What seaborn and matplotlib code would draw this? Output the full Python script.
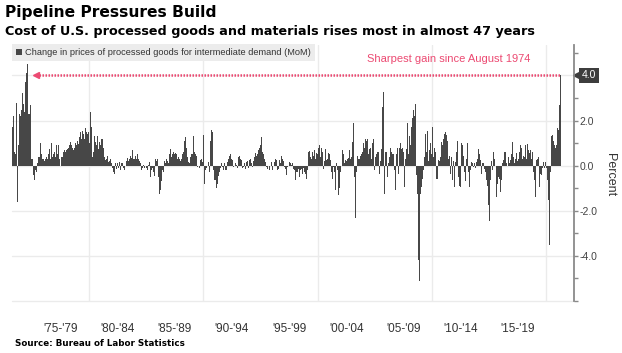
import numpy as np
import pandas as pd
import matplotlib
matplotlib.use("Agg")
import matplotlib.pyplot as plt
from matplotlib.patches import Patch
from matplotlib.ticker import MultipleLocator
import seaborn as sns

# monthly % change, processed goods for intermediate demand
start_month = "1973-04"
mom_1973_79 = [
    1.7, 2.2, 0.6, 0.5, 2.8, -1.6, 0.9, 2.3, 2.2,
    2.45, 2.8, 3.2, 2.75, 2.4, 3.7, 4.1, 4.5, 2.3, 2.3, 2.7, 0.3,
    0.3, -0.4, -0.65, -0.2, -0.3, 0.1, 0.4, 0.4, 1.0, 0.5, 0.3, 0.3,
    0.3, 0.2, 0.3, 0.4, 0.3, 0.5, 0.75, 0.3, 1.0, 0.4, 0.5, 0.6,
    0.4, 0.9, 0.5, 0.9, 0.3, 0.0, 0.4, 0.5, 0.4, 0.6, 0.7, 0.6,
    0.7, 0.75, 0.8, 0.9, 1.05, 0.9, 0.8, 0.7, 0.8, 1.0, 0.9, 1.1,
    0.95, 1.25, 1.5, 1.2, 1.3, 1.55, 1.4, 1.2, 1.65, 1.5, 1.4, 1.5,
]
mom_1980_84 = [
    1.0, 2.4, 1.7, 0.4, 0.6, 1.3, 1.05, 0.9, 1.3, 0.75, 1.05, 0.9,
    1.2, 1.0, 1.2, 0.8, 0.4, 0.25, 0.3, 0.45, 0.15, 0.2, 0.3, 0.1,
    -0.1, -0.3, -0.35, 0.1, -0.15, 0.1, -0.1, 0.15, -0.2, 0.1, -0.25, 0.1,
    -0.1, -0.2, 0.0, 0.2, 0.35, 0.2, 0.3, 0.45, 0.35, 0.7, 0.3, 0.3,
    0.45, 0.3, 0.5, 0.3, 0.2, 0.1, -0.2, -0.1, -0.1, 0.05, -0.1, 0.0,
]
mom_1985_89 = [
    -0.1, -0.2, 0.05, 0.15, -0.5, -0.2, -0.1, -0.3, -0.45, 0.3, 0.2, 0.3,
    -0.5, -1.25, -1.1, -0.7, -0.35, -0.2, -0.3, 0.2, 0.1, 0.3, 0.2, 0.1,
    0.5, 0.75, 0.4, 0.5, 0.6, 0.5, 0.55, 0.5, 0.3, 0.4, 0.3, 0.2,
    0.3, 0.4, 0.5, 0.6, 1.1, 1.25, 0.8, 0.4, 0.15, 0.1, 0.4, 0.5,
    0.5, 1.3, 0.6, 0.5, 0.45, -0.05, 0.0, -0.1, 0.25, 0.3, 0.1, 0.15,
]
mom_1990_94 = [
    1.35, -0.8, -0.2, -0.1, 0.0, 0.15, -0.3, 1.1, 1.6, 1.5, -0.2, -0.65,
    -0.65, -1.0, -0.8, -0.45, -0.3, -0.1, 0.1, 0.15, -0.05, -0.2, 0.1, -0.2,
    -0.2, 0.15, 0.3, 0.45, 0.5, 0.3, 0.25, -0.05, 0.0, 0.1, 0.05, -0.1,
    0.4, 0.45, 0.3, 0.25, -0.2, -0.1, -0.05, 0.1, -0.15, 0.15, 0.2, -0.1,
    0.25, 0.3, 0.1, -0.05, 0.2, 0.4, 0.55, 0.45, 0.5, 0.7, 0.8, 0.9,
]
mom_1995_99 = [
    1.1, 1.25, 0.6, 0.5, 0.3, 0.15, -0.05, -0.15, 0.0, -0.2, 0.0, 0.15,
    -0.2, 0.0, 0.15, 0.3, 0.25, -0.2, -0.15, 0.25, 0.1, 0.4, 0.45, 0.3,
    0.2, -0.05, -0.15, -0.4, -0.05, 0.0, 0.15, 0.1, 0.05, 0.1, -0.15, -0.2,
    -0.65, -0.3, -0.3, -0.15, -0.5, -0.2, -0.2, -0.15, -0.35, -0.1, -0.3, -0.35,
    -0.6, -0.2, 0.6, 0.65, 0.4, 0.3, 0.6, 0.45, 0.7, 0.3, 0.55, 0.5,
]
mom_2000_04 = [
    0.8, 0.9, 0.4, -0.1, 0.8, 0.6, -0.15, 0.2, 0.75, 0.25, 0.3, 0.55,
    0.5, 0.25, -0.3, -0.6, -0.05, -0.3, -1.1, 0.1, -0.2, -1.3, -1.0, -0.3,
    -0.3, 0.0, 0.7, 0.5, 0.1, 0.25, 0.2, 0.3, 0.35, 0.7, 0.3, 0.4,
    1.05, 1.9, -0.5, -2.3, -0.3, 0.45, 0.3, 0.3, 0.45, 0.2, 0.5, 0.6,
    1.0, 0.8, 1.2, 1.1, 1.2, 0.5, 0.75, 0.8, 0.3, 1.0, 1.2, -0.2,
]
mom_2005_09 = [
    0.4, 0.5, 0.6, 0.6, -0.35, 0.2, 0.45, 0.75, 2.6, 3.25, -1.25, 0.6,
    0.6, -0.5, 0.1, 0.4, 0.8, 0.6, 0.5, 0.5, -0.2, -1.1, 0.5, 0.8,
    -0.35, 0.8, 1.0, 0.9, 0.75, 0.8, 0.6, -0.95, 0.3, 0.75, 1.9, 0.5,
    1.3, 0.9, 1.7, 2.1, 2.45, 2.2, 2.75, -0.4, -1.25, -4.2, -5.1, -1.25,
    -1.55, -0.95, -0.6, -0.2, 0.4, 1.4, 0.6, 1.55, 0.2, 0.7, 1.0, 0.5,
]
mom_2010_14 = [
    1.7, 0.4, 0.8, 0.6, -0.6, -0.6, 0.25, 0.2, 0.4, 1.2, 1.05, 0.9,
    1.2, 1.4, 1.5, 1.35, 1.1, 0.3, 0.45, -0.35, 0.4, -0.65, 0.2, -0.95,
    0.15, 0.6, 1.1, -0.5, -0.9, -0.95, 0.1, 1.0, 0.9, 0.45, -0.3, -0.7,
    0.3, 1.0, -0.3, -0.95, -0.2, 0.15, 0.1, -0.05, 0.1, -0.1, 0.15, 0.3,
    0.75, 0.5, 0.25, -0.1, -0.35, 0.1, 0.1, -0.15, -0.3, -0.65, -0.9, -1.75,
]
mom_2015_19 = [
    -2.45, -0.65, 0.2, -0.2, 0.6, 0.3, 0.0, -1.4, -0.8, -0.5, -0.6, -1.15,
    -1.15, -0.65, 0.1, 0.25, 0.6, 0.6, 0.1, 0.0, 0.4, 0.1, 0.25, 0.5,
    1.05, 0.4, 0.1, 0.3, 0.55, 0.2, 0.3, 0.6, 0.9, 0.5, 0.8, 0.3,
    0.45, 0.4, 0.9, 0.3, 0.95, 0.7, 0.55, 0.7, 0.3, 0.6, -0.3, -0.65,
    -1.4, 0.25, 0.3, 0.4, -0.95, -0.35, -0.05, -0.4, -0.1, 0.15, -0.1, 0.15,
]
mom_2020_21 = [
    -0.1, -0.65, -1.5, -3.5, -0.3, 1.3, 1.35, 1.1, 0.9, 0.8, 0.9, 1.65,
    1.6, 2.7, 4.0,
]

period_labels = ["'75-'79", "'80-'84", "'85-'89", "'90-'94", "'95-'99",
                 "'00-'04", "'05-'09", "'10-'14", "'15-'19"]
period_centers = [1977.5, 1982.5, 1987.5, 1992.5, 1997.5,
                  2002.5, 2007.5, 2012.5, 2017.5]
decade_lines = [1980, 1990, 2000, 2010, 2020]
y_ticks = [-4, -2, 0, 2, 4]

values = (mom_1973_79 + mom_1980_84 + mom_1985_89 + mom_1990_94 + mom_1995_99
          + mom_2000_04 + mom_2005_09 + mom_2010_14 + mom_2015_19 + mom_2020_21)
dates = pd.date_range(start_month, periods=len(values), freq="MS")
df = pd.DataFrame({"t": dates.year + (dates.month - 0.5) / 12, "mom": values})

BAR = "#474747"
PINK = "#ec4a72"
GRID = "#ebebeb"

sns.set_theme(style="white")
plt.rcParams["font.family"] = ["Liberation Sans", "DejaVu Sans"]

fig = plt.figure(figsize=(6.22, 3.53), dpi=100)
ax = fig.add_axes([12 / 622, 1 - 301 / 353, 562 / 622, 256 / 353])

sns.barplot(data=df, x="t", y="mom", native_scale=True, color=BAR,
            saturation=1, width=1.0, linewidth=0, errorbar=None, ax=ax)

ax.set_xlim(1973.25, 2022.43)
ax.set_ylim(-6, 5.35)
ax.set_axisbelow(True)

for d in decade_lines:
    ax.axvline(d, color=GRID, lw=1, zorder=0)
for v in [-6] + y_ticks:
    ax.axhline(v, color=GRID, lw=1, zorder=0, clip_on=False)

ax.set_xticks(period_centers)
ax.set_xticklabels(period_labels)
ax.tick_params(axis="x", length=0, labelsize=8.5, labelcolor="#333333", pad=16)

ax.yaxis.tick_right()
ax.set_yticks(y_ticks)
# the top tick is covered by the value tag, so leave its label empty
ax.set_yticklabels([f"{v:.1f}" if v != 4 else "" for v in y_ticks])
ax.yaxis.set_minor_locator(MultipleLocator(1))
ax.tick_params(axis="y", which="both", direction="out", length=3, width=1,
               color="#8a8a8a", labelsize=7.5, labelcolor="#444444", pad=1)
ax.set_xlabel("")
ax.set_ylabel("")

for s in ["top", "left", "bottom"]:
    ax.spines[s].set_visible(False)
ax.spines["right"].set_color("#8a8a8a")
ax.spines["right"].set_linewidth(1.3)

# arrow from latest reading back to the Aug 1974 spike
peak = df["mom"].iloc[-1]
t_last = df["t"].iloc[-1]
t_1974 = df.loc[df["mom"].idxmax(), "t"]
ax.plot([t_1974 + 0.75, t_last], [peak, peak], color=PINK, lw=1.8,
        ls=(0, (0.6, 0.6)), zorder=3)
ax.plot([t_1974 + 0.75], [peak], marker="<", ms=5, color=PINK, zorder=3)
ax.text(2004.3, 4.75, "Sharpest gain since August 1974", color=PINK,
        fontsize=8, ha="left", va="center")

# value tag on the axis
ax.plot([1.006], [peak], marker="<", ms=6, color="#3d3d3d",
        transform=ax.get_yaxis_transform(), clip_on=False)
ax.annotate(f"{peak:.1f}", xy=(1, peak), xycoords=("axes fraction", "data"),
            xytext=(5.5, 0), textcoords="offset points", ha="left", va="center",
            color="white", fontsize=7.5,
            bbox=dict(boxstyle="square,pad=0.25", fc="#3d3d3d", ec="none"))

leg = ax.legend(handles=[Patch(fc=BAR, ec="none",
                               label="Change in prices of processed goods for intermediate demand (MoM)")],
                loc="upper left", bbox_to_anchor=(0, 1.005), fontsize=6.7,
                frameon=True, fancybox=False, framealpha=1, facecolor="#ececec",
                edgecolor="none", handlelength=0.6, handleheight=0.6,
                handletextpad=0.4, borderpad=0.45, borderaxespad=0)
for txt in leg.get_texts():
    txt.set_color("#333333")

fig.text(610 / 622, 1 - 175 / 353, "Percent", rotation=270, ha="center",
         va="center", fontsize=9, color="#333333")
fig.text(5 / 622, 1 - 12 / 353, "Pipeline Pressures Build", fontsize=11.2,
         fontweight="bold", color="black", va="center", ha="left",
         family=["DejaVu Sans"])
fig.text(5 / 622, 1 - 32 / 353,
         "Cost of U.S. processed goods and materials rises most in almost 47 years",
         fontsize=9.2, fontweight="bold", color="black", va="center", ha="left",
         family=["DejaVu Sans"])
fig.text(15 / 622, 1 - 343 / 353, "Source: Bureau of Labor Statistics",
         fontsize=6.3, fontweight="bold", color="black", va="center", ha="left",
         family=["DejaVu Sans"])

fig.savefig("out.png", dpi=100)
